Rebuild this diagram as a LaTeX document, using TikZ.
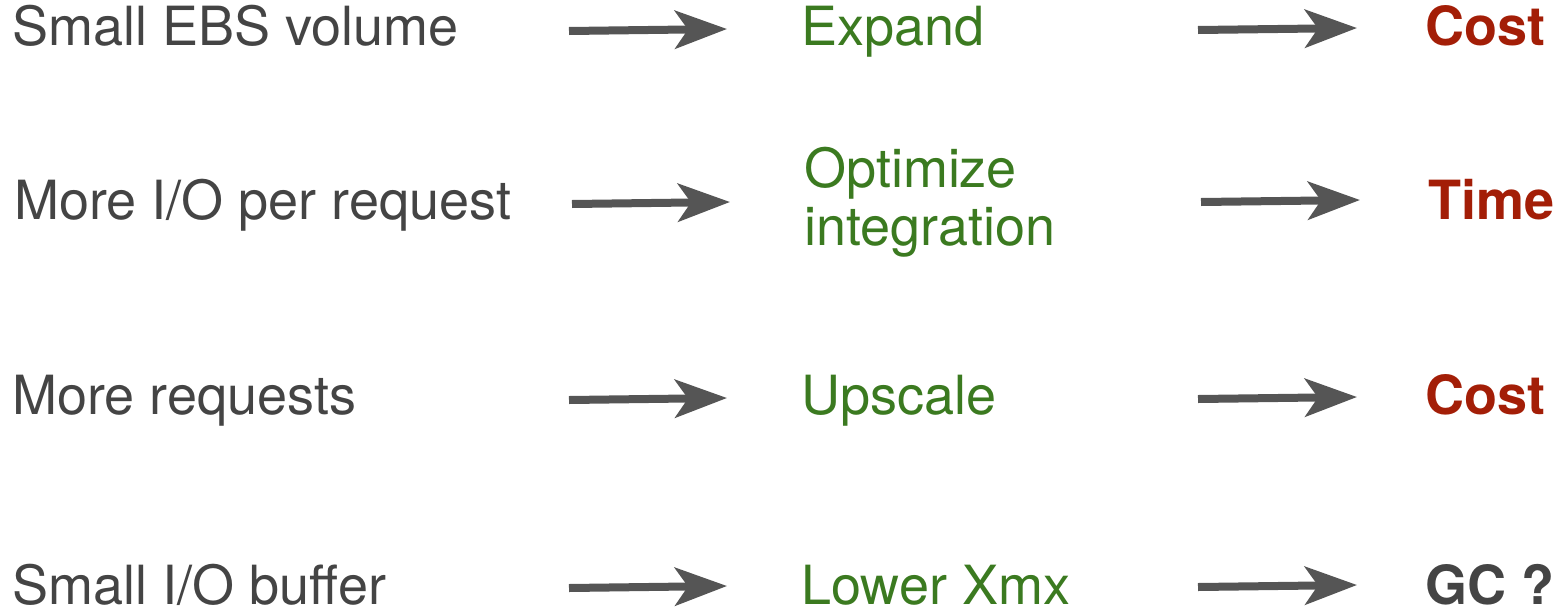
\documentclass[tikz,border=0pt]{standalone}
\usepackage{fontspec}
\setmainfont{TeX Gyre Heros}
\usetikzlibrary{arrows.meta}
\definecolor{txtgray}{HTML}{444444}
\definecolor{arrgray}{HTML}{555555}
\definecolor{fixgreen}{HTML}{3B7A20}
\definecolor{costred}{HTML}{A31E07}
\tikzset{
  cause/.style={anchor=base west, inner sep=0pt, text=txtgray, font=\fontsize{54}{58}\selectfont},
  fix/.style={anchor=base west, inner sep=0pt, text=fixgreen, font=\fontsize{54}{58}\selectfont, align=left},
  effect/.style={anchor=base west, inner sep=0pt, text=costred, font=\fontsize{54}{58}\selectfont\bfseries},
  effectgray/.style={effect, text=txtgray},
  bigarrow/.style={draw=arrgray, line width=8pt, -{Stealth[length=52pt, width=38pt, inset=13pt]}, fill=arrgray}
}
\begin{document}
\begin{tikzpicture}[x=1pt,y=-1pt]
\useasboundingbox (0,0) rectangle (1556,611);
% row 1
\node[cause] (c1) at (12,45) {Small EBS volume};
\node[fix] (f1) at (801,45) {Expand};
\node[effect] (e1) at (1425,45) {Cost};
\coordinate (a1s) at (569,31); \coordinate (a1e) at (727,29);
\coordinate (b1s) at (1198,30); \coordinate (b1e) at (1357,28);
% row 2
\node[cause] (c2) at (14,219) {More I/O per request};
\node[fix] (f2) at (804,245) {Optimize\\integration};
\node[effect] (e2) at (1428,219) {Time};
\coordinate (a2s) at (572,204); \coordinate (a2e) at (730,202);
\coordinate (b2s) at (1201,202); \coordinate (b2e) at (1360,200);
% row 3
\node[cause] (c3) at (12,414) {More requests};
\node[fix] (f3) at (801,414) {Upscale};
\node[effect] (e3) at (1425,414) {Cost};
\coordinate (a3s) at (569,400); \coordinate (a3e) at (727,398);
\coordinate (b3s) at (1198,399); \coordinate (b3e) at (1357,397);
% row 4
\node[cause] (c4) at (12,604) {Small I/O buffer};
\node[fix] (f4) at (801,604) {Lower Xmx};
\node[effectgray] (e4) at (1425,604) {GC ?};
\coordinate (a4s) at (569,588); \coordinate (a4e) at (727,586);
\coordinate (b4s) at (1198,587); \coordinate (b4e) at (1357,585);
% arrows
\foreach \r in {1,2,3,4}{
  \draw[bigarrow] (a\r s) -- (a\r e);
  \draw[bigarrow] (b\r s) -- (b\r e);
}
\end{tikzpicture}
\end{document}
